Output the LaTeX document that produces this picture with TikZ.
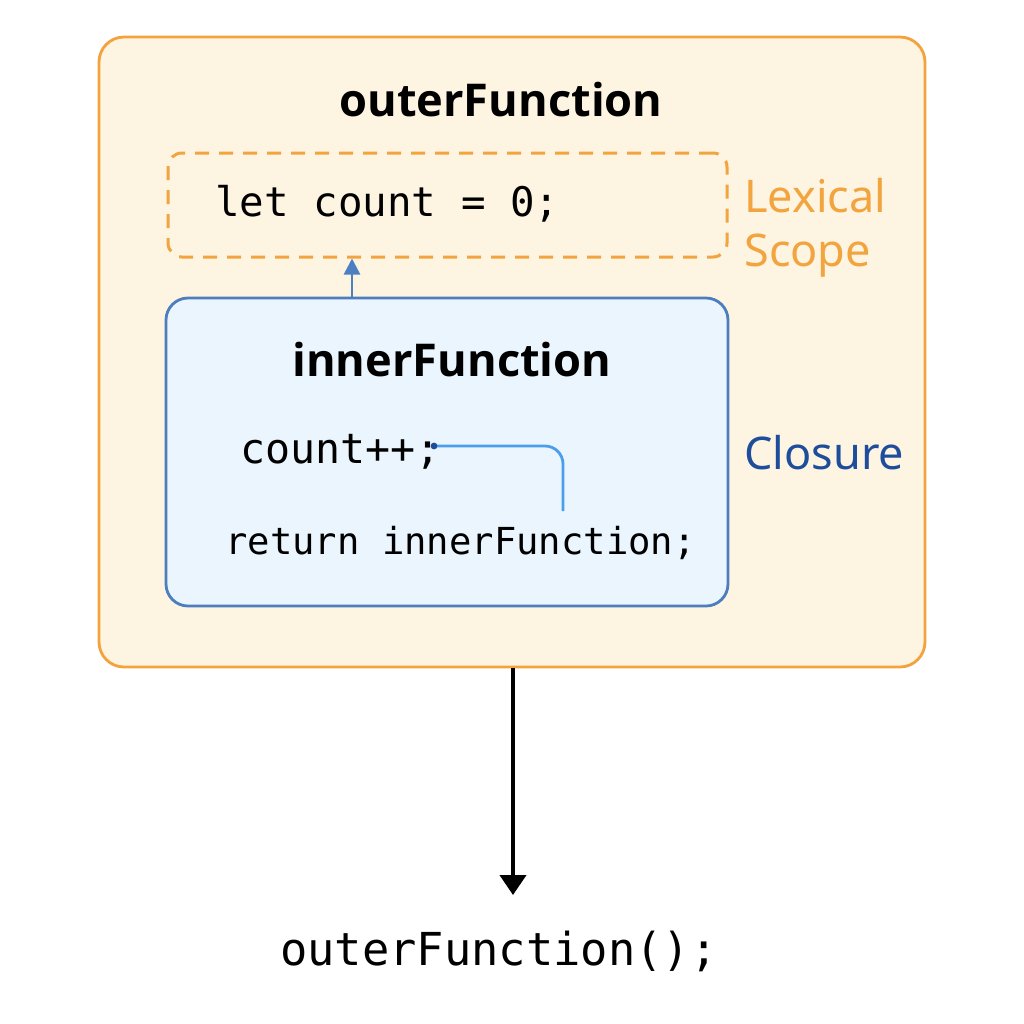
\documentclass[tikz,border=0pt]{standalone}
\usepackage{fontspec}
\setmainfont{Noto Sans}
\newfontfamily\titlefont{Open Sans}
\setmonofont{DejaVu Sans Mono}
\usetikzlibrary{arrows.meta}
\definecolor{outerfill}{HTML}{FEF4E2}
\definecolor{outerdraw}{HTML}{F4A23C}
\definecolor{lexorange}{HTML}{F2A43F}
\definecolor{innerfill}{HTML}{EAF5FD}
\definecolor{innerdraw}{HTML}{4C7DBE}
\definecolor{closblue}{HTML}{1E4E9B}
\definecolor{arrblue}{HTML}{4D80C0}
\definecolor{linkblue}{HTML}{4A9EEA}
\tikzset{
  outerbox/.style={draw=outerdraw, fill=outerfill, line width=1.4pt, rounded corners=12.5pt,
    minimum width=413pt, minimum height=315pt, inner sep=0pt},
  scopebox/.style={draw=lexorange, line width=1.5pt, dash pattern=on 7pt off 5pt,
    rounded corners=7pt, minimum width=279.5pt, minimum height=52pt, inner sep=0pt},
  innerbox/.style={draw=innerdraw, fill=innerfill, line width=1.4pt, rounded corners=11pt,
    minimum width=281pt, minimum height=154pt, inner sep=0pt},
  titletext/.style={font=\titlefont\fontsize{22.6pt}{26pt}\selectfont\bfseries, inner sep=0pt},
  codetext/.style={font=\ttfamily, inner sep=0pt, anchor=west},
  sidetext/.style={font=\fontsize{22.5pt}{27pt}\selectfont, inner sep=0pt, anchor=west, align=left},
}
\begin{document}
\begin{tikzpicture}[x=0.5pt,y=-0.5pt]
\useasboundingbox[fill=white] (0,0) rectangle (1024,1024);
\node[outerbox] (outer) at (512,352) {};
\node[titletext] (outertitle) at (501,100) {outerFunction};
\node[scopebox] (scope) at (447.5,205) {};
\node[codetext, font=\ttfamily\fontsize{20.4pt}{24pt}\selectfont] (letcount) at (215,204) {let count = 0;};
\node[sidetext, text=lexorange] (lexical) at (744,228) {Lexical\\Scope};
\node[innerbox] (inner) at (447,452) {};
\node[titletext] (innertitle) at (452,360) {innerFunction};
\node[codetext, font=\ttfamily\fontsize{20.8pt}{24pt}\selectfont] (countpp) at (240,452) {count++;};
\node[codetext, font=\ttfamily\fontsize{18.6pt}{22pt}\selectfont] (ret) at (225,543) {return innerFunction;};
\node[sidetext, text=closblue] (closure) at (744,453) {Closure};
\node[font=\ttfamily\fontsize{22.7pt}{26pt}\selectfont, inner sep=0pt] (call) at (499,951) {outerFunction();};
% arrows
\draw[arrblue, line width=1.3pt, -{Triangle[length=8pt,width=8pt]}] (inner.north -| 352,0) -- (scope.south -| 352,0);
\coordinate (tip) at (513,895);
\draw[black, line width=2pt, -{Triangle[length=10pt,width=13pt]}] (outer.south -| 513,0) -- (tip);
\coordinate (linkstart) at (434,446);
\coordinate (linkend) at (563,511);
\draw[linkblue, line width=1.4pt, rounded corners=9pt] (linkstart) -- (linkstart -| linkend) -- (linkend);
\fill[closblue] (linkstart) circle (1.7pt);
\end{tikzpicture}
\end{document}
